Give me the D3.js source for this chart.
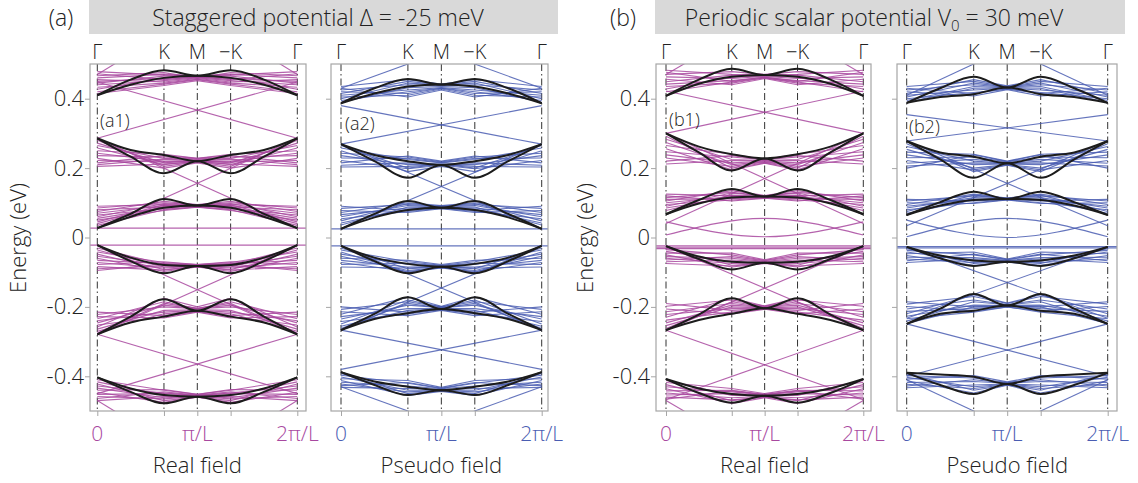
<!DOCTYPE html>
<html>
<head>
<meta charset="utf-8">
<script src="https://cdn.jsdelivr.net/npm/d3@7"></script>
<style>
  body { margin: 0; background: #fff; }
  text { font-family: "Open Sans", "Noto Sans", sans-serif; font-weight: 300; fill: #222; }
</style>
</head>
<body>
<div id="chart"></div>
<script>
// ---------------------------------------------------------------
// data (energies in eV, k in units of pi/L)
// ---------------------------------------------------------------
var symPos = [0, 2/3, 1, 4/3, 2];
var symLabels = ["Γ", "K", "M", "−K", "Γ"];
var kGrid = [0, 1/3, 2/3, 1, 4/3, 5/3, 2];
var eTicks = [0.4, 0.2, 0, -0.2, -0.4];
var kTicks = [0, 1, 2];
var kTickLabels = ["0", "π/L", "2π/L"];

// black bands, sampled on kGrid
var a1Black = [
  [0.41, 0.455, 0.482, 0.466, 0.482, 0.455, 0.41],
  [0.41, 0.44, 0.46, 0.466, 0.46, 0.44, 0.41],
  [0.286, 0.233, 0.185, 0.22, 0.185, 0.233, 0.286],
  [0.286, 0.252, 0.238, 0.22, 0.238, 0.252, 0.286],
  [0.027, 0.068, 0.111, 0.092, 0.111, 0.068, 0.027],
  [0.027, 0.06, 0.086, 0.092, 0.086, 0.06, 0.027],
  [-0.022, -0.068, -0.103, -0.082, -0.103, -0.068, -0.022],
  [-0.022, -0.058, -0.079, -0.082, -0.079, -0.058, -0.022],
  [-0.279, -0.228, -0.178, -0.211, -0.178, -0.228, -0.279],
  [-0.279, -0.245, -0.228, -0.211, -0.228, -0.245, -0.279],
  [-0.403, -0.445, -0.478, -0.459, -0.478, -0.445, -0.403],
  [-0.403, -0.435, -0.454, -0.459, -0.454, -0.435, -0.403]
];
var a2Black = [
  [0.387, 0.43, 0.457, 0.441, 0.457, 0.43, 0.387],
  [0.387, 0.415, 0.435, 0.441, 0.435, 0.415, 0.387],
  [0.269, 0.22, 0.172, 0.209, 0.172, 0.22, 0.269],
  [0.269, 0.238, 0.22, 0.209, 0.22, 0.238, 0.269],
  [0.025, 0.068, 0.105, 0.086, 0.105, 0.068, 0.025],
  [0.025, 0.058, 0.079, 0.086, 0.079, 0.058, 0.025],
  [-0.024, -0.068, -0.103, -0.084, -0.103, -0.068, -0.024],
  [-0.024, -0.058, -0.076, -0.084, -0.076, -0.058, -0.024],
  [-0.267, -0.22, -0.172, -0.206, -0.172, -0.22, -0.267],
  [-0.267, -0.235, -0.218, -0.206, -0.218, -0.235, -0.267],
  [-0.388, -0.425, -0.454, -0.44, -0.454, -0.425, -0.388],
  [-0.388, -0.415, -0.43, -0.44, -0.43, -0.415, -0.388]
];
var b1Black = [
  [0.408, 0.455, 0.486, 0.468, 0.486, 0.455, 0.408],
  [0.408, 0.443, 0.463, 0.468, 0.463, 0.443, 0.408],
  [0.30, 0.245, 0.193, 0.228, 0.193, 0.245, 0.30],
  [0.30, 0.262, 0.24, 0.228, 0.24, 0.262, 0.30],
  [0.067, 0.108, 0.14, 0.118, 0.14, 0.108, 0.067],
  [0.067, 0.098, 0.115, 0.118, 0.115, 0.098, 0.067],
  [-0.025, -0.062, -0.092, -0.073, -0.092, -0.062, -0.025],
  [-0.025, -0.055, -0.07, -0.073, -0.07, -0.055, -0.025],
  [-0.267, -0.222, -0.175, -0.204, -0.175, -0.222, -0.267],
  [-0.267, -0.238, -0.22, -0.204, -0.22, -0.238, -0.267],
  [-0.408, -0.448, -0.476, -0.456, -0.476, -0.448, -0.408],
  [-0.408, -0.435, -0.451, -0.456, -0.451, -0.435, -0.408]
];
var b2Black = [
  [0.388, 0.43, 0.463, 0.432, 0.463, 0.43, 0.388],
  [0.388, 0.405, 0.413, 0.432, 0.413, 0.405, 0.388],
  [0.278, 0.225, 0.172, 0.214, 0.172, 0.225, 0.278],
  [0.278, 0.245, 0.233, 0.214, 0.233, 0.245, 0.278],
  [0.065, 0.102, 0.132, 0.111, 0.132, 0.102, 0.065],
  [0.065, 0.092, 0.108, 0.111, 0.108, 0.092, 0.065],
  [-0.027, -0.06, -0.082, -0.07, -0.082, -0.06, -0.027],
  [-0.027, -0.052, -0.066, -0.07, -0.066, -0.052, -0.027],
  [-0.249, -0.205, -0.163, -0.196, -0.163, -0.205, -0.249],
  [-0.249, -0.22, -0.211, -0.196, -0.211, -0.22, -0.249],
  [-0.39, -0.425, -0.451, -0.422, -0.451, -0.425, -0.39],
  [-0.39, -0.395, -0.401, -0.422, -0.401, -0.395, -0.39]
];

// coloured bands: [E at Γ, E at K, E at M]
var a1Fan = [
  [0.478,0.468,0.466],[0.472,0.455,0.463],[0.466,0.475,0.46],[0.46,0.47,0.466],[0.455,0.448,0.458],
  [0.45,0.458,0.462],[0.445,0.465,0.466],[0.44,0.452,0.46],[0.433,0.445,0.456],[0.427,0.46,0.464],
  [0.42,0.442,0.455],[0.415,0.438,0.452],
  [0.28,0.205,0.218],[0.272,0.215,0.222],[0.265,0.228,0.225],[0.258,0.21,0.22],[0.25,0.24,0.228],
  [0.243,0.22,0.222],[0.236,0.232,0.226],[0.228,0.2,0.215],[0.222,0.218,0.22],[0.215,0.236,0.228],
  [0.21,0.226,0.222],[0.205,0.212,0.218],
  [0.09,0.095,0.092],[0.085,0.1,0.094],[0.08,0.088,0.09],[0.075,0.104,0.095],[0.07,0.092,0.092],
  [0.065,0.082,0.088],[0.06,0.098,0.093],[0.055,0.086,0.09],[0.05,0.078,0.087],[0.045,0.094,0.092],
  [0.04,0.09,0.091],[0.035,0.08,0.088],
  [-0.03,-0.078,-0.08],[-0.036,-0.085,-0.082],[-0.042,-0.072,-0.078],[-0.048,-0.092,-0.084],[-0.054,-0.08,-0.081],
  [-0.06,-0.098,-0.085],[-0.066,-0.075,-0.08],[-0.072,-0.088,-0.083],[-0.078,-0.07,-0.078],[-0.084,-0.094,-0.084],
  [-0.09,-0.082,-0.082],[-0.095,-0.076,-0.08],
  [-0.215,-0.225,-0.212],[-0.222,-0.2,-0.205],[-0.228,-0.232,-0.215],[-0.234,-0.185,-0.205],[-0.24,-0.215,-0.21],
  [-0.246,-0.195,-0.205],[-0.252,-0.228,-0.214],[-0.258,-0.175,-0.2],[-0.264,-0.21,-0.208],[-0.27,-0.22,-0.212],
  [-0.275,-0.19,-0.204],
  [-0.41,-0.44,-0.452],[-0.416,-0.455,-0.456],[-0.422,-0.47,-0.46],[-0.428,-0.448,-0.455],[-0.434,-0.462,-0.458],
  [-0.44,-0.438,-0.452],[-0.446,-0.475,-0.46],[-0.452,-0.45,-0.455],[-0.458,-0.465,-0.458],[-0.464,-0.445,-0.454],
  [-0.47,-0.458,-0.457]
];
var a2Fan = [
  [0.435,0.455,0.442],[0.43,0.405,0.425],[0.425,0.44,0.438],[0.42,0.415,0.43],[0.415,0.45,0.44],
  [0.41,0.425,0.432],[0.405,0.41,0.428],[0.4,0.445,0.44],[0.395,0.42,0.43],[0.39,0.432,0.435],
  [0.265,0.2,0.212],[0.258,0.225,0.215],[0.25,0.19,0.205],[0.243,0.232,0.218],[0.236,0.21,0.21],
  [0.229,0.228,0.216],[0.222,0.198,0.208],[0.215,0.235,0.22],[0.208,0.215,0.212],[0.203,0.205,0.21],
  [0.09,0.078,0.085],[0.084,0.095,0.09],[0.078,0.072,0.083],[0.072,0.1,0.092],[0.066,0.085,0.087],
  [0.06,0.092,0.089],[0.054,0.075,0.084],[0.048,0.098,0.09],[0.042,0.082,0.086],[0.036,0.088,0.088],
  [-0.03,-0.09,-0.085],[-0.036,-0.07,-0.08],[-0.042,-0.1,-0.088],[-0.048,-0.078,-0.082],[-0.054,-0.095,-0.086],
  [-0.06,-0.066,-0.078],[-0.066,-0.085,-0.084],[-0.072,-0.098,-0.087],[-0.078,-0.074,-0.081],[-0.085,-0.088,-0.084],
  [-0.2,-0.215,-0.208],[-0.207,-0.185,-0.2],[-0.214,-0.225,-0.21],[-0.221,-0.172,-0.198],[-0.228,-0.205,-0.205],
  [-0.235,-0.195,-0.202],[-0.242,-0.22,-0.208],[-0.249,-0.18,-0.2],[-0.256,-0.21,-0.206],[-0.262,-0.19,-0.203],
  [-0.392,-0.45,-0.442],[-0.397,-0.42,-0.435],[-0.402,-0.44,-0.44],[-0.407,-0.412,-0.432],[-0.412,-0.455,-0.444],
  [-0.417,-0.428,-0.436],[-0.422,-0.445,-0.441],[-0.427,-0.418,-0.434],[-0.432,-0.435,-0.438]
];
var b1Fan = [
  [0.482,0.47,0.468],[0.476,0.45,0.462],[0.47,0.478,0.47],[0.463,0.458,0.464],[0.456,0.44,0.458],
  [0.449,0.468,0.467],[0.442,0.452,0.462],[0.435,0.445,0.46],[0.428,0.462,0.466],[0.42,0.448,0.46],
  [0.292,0.2,0.215],[0.283,0.225,0.222],[0.274,0.21,0.218],[0.265,0.24,0.226],[0.256,0.195,0.214],
  [0.247,0.232,0.224],[0.238,0.215,0.22],[0.229,0.205,0.217],[0.22,0.236,0.225],[0.212,0.222,0.221],
  [0.125,0.12,0.118],[0.12,0.105,0.113],[0.115,0.13,0.12],[0.11,0.112,0.115],[0.105,0.135,0.121],
  [0.1,0.118,0.117],[0.095,0.108,0.114],[0.09,0.128,0.12],[0.085,0.115,0.116],[0.078,0.122,0.118],
  [-0.03,-0.08,-0.074],[-0.035,-0.05,-0.066],[-0.04,-0.07,-0.072],[-0.045,-0.045,-0.064],[-0.05,-0.085,-0.075],
  [-0.055,-0.06,-0.069],[-0.06,-0.075,-0.073],[-0.065,-0.055,-0.067],[-0.07,-0.065,-0.07],[-0.075,-0.082,-0.074],
  [-0.19,-0.21,-0.205],[-0.198,-0.18,-0.198],[-0.206,-0.22,-0.207],[-0.214,-0.19,-0.2],[-0.222,-0.205,-0.204],
  [-0.23,-0.175,-0.197],[-0.238,-0.215,-0.206],[-0.246,-0.195,-0.201],[-0.254,-0.2,-0.203],[-0.262,-0.185,-0.199],
  [-0.412,-0.455,-0.456],[-0.418,-0.435,-0.45],[-0.424,-0.47,-0.46],[-0.43,-0.445,-0.453],[-0.436,-0.478,-0.462],
  [-0.442,-0.44,-0.452],[-0.448,-0.462,-0.458],[-0.454,-0.45,-0.455],[-0.46,-0.468,-0.46],[-0.466,-0.442,-0.453]
];
var b2Fan = [
  [0.435,0.45,0.435],[0.43,0.415,0.428],[0.425,0.44,0.433],[0.42,0.408,0.426],[0.415,0.455,0.437],
  [0.41,0.425,0.43],[0.405,0.445,0.434],[0.4,0.418,0.428],[0.395,0.435,0.432],[0.39,0.43,0.431],
  [0.27,0.19,0.208],[0.262,0.22,0.214],[0.254,0.2,0.21],[0.246,0.24,0.22],[0.238,0.21,0.212],
  [0.23,0.232,0.218],[0.222,0.195,0.209],[0.214,0.225,0.216],[0.206,0.215,0.213],[0.2,0.238,0.219],
  [0.11,0.105,0.11],[0.105,0.12,0.113],[0.1,0.098,0.108],[0.095,0.125,0.114],[0.09,0.11,0.11],
  [0.085,0.115,0.112],[0.08,0.1,0.109],[0.075,0.122,0.113],[0.07,0.108,0.11],
  [-0.032,-0.075,-0.07],[-0.037,-0.05,-0.064],[-0.042,-0.068,-0.069],[-0.047,-0.042,-0.062],[-0.052,-0.08,-0.071],
  [-0.057,-0.058,-0.066],[-0.062,-0.072,-0.07],[-0.067,-0.048,-0.063],[-0.072,-0.062,-0.067],
  [-0.185,-0.2,-0.198],[-0.192,-0.17,-0.19],[-0.199,-0.212,-0.2],[-0.206,-0.18,-0.193],[-0.213,-0.205,-0.198],
  [-0.22,-0.165,-0.189],[-0.227,-0.195,-0.196],[-0.234,-0.215,-0.2],[-0.241,-0.185,-0.194],[-0.248,-0.2,-0.197],
  [-0.393,-0.44,-0.425],[-0.398,-0.405,-0.418],[-0.403,-0.43,-0.423],[-0.408,-0.398,-0.416],[-0.413,-0.448,-0.426],
  [-0.418,-0.415,-0.42],[-0.423,-0.435,-0.424],[-0.428,-0.41,-0.419],[-0.433,-0.425,-0.422]
];

// straight folded bands crossing at M: [E at left Γ, E at right Γ]
var a1Cross = [[0.47, 0.82], [0.286, 0.448], [0.286, 0.027], [-0.022, -0.279], [-0.279, -0.45], [-0.47, -0.82]];
var a2Cross = [[0.43, 0.64], [0.269, 0.38], [0.269, 0.025], [-0.024, -0.267], [-0.267, -0.38], [-0.43, -0.64]];
var b1Cross = [[0.47, 0.8], [0.30, 0.422], [0.30, 0.04], [-0.025, -0.267], [-0.267, -0.467], [-0.47, -0.8]];
var b2Cross = [[0.41, 0.68], [0.278, 0.354], [0.278, 0.034], [-0.027, -0.233], [-0.249, -0.40], [-0.41, -0.68]];

// flat bands
var a1Flat = [0.027, -0.022];
var a2Flat = [0.025, -0.024];
var b1Flat = [-0.024, -0.028, -0.032];
var b2Flat = [-0.026, -0.03];

// arcs near zero energy: [E at Γ, E at M]
var b1Arc = [[0.007, 0.055], [0.045, 0.002]];
var b2Arc = [[0.002, 0.055], [0.05, 0.0]];

// ---------------------------------------------------------------
// layout
// ---------------------------------------------------------------
var width = 1138, height = 483;
var magenta = "#a8489f", blue = "#4a5db2";

var panels = [
  {id: "a1", x0: 90,  x1: 306,  g0: 97.3,  g1: 297.3,  color: magenta, label: "(a1)", lx: 100, ly: 127, yLabels: true,
   black: a1Black, fan: a1Fan, cross: a1Cross, flat: a1Flat, arc: [], field: "Real field"},
  {id: "a2", x0: 331, x1: 548,  g0: 341,   g1: 541.7,  color: blue,    label: "(a2)", lx: 345, ly: 130, yLabels: false,
   black: a2Black, fan: a2Fan, cross: a2Cross, flat: a2Flat, arc: [], field: "Pseudo field"},
  {id: "b1", x0: 656, x1: 871,  g0: 666,   g1: 863.3,  color: magenta, label: "(b1)", lx: 669, ly: 126, yLabels: true,
   black: b1Black, fan: b1Fan, cross: b1Cross, flat: b1Flat, arc: b1Arc, field: "Real field"},
  {id: "b2", x0: 897, x1: 1117, g0: 906.7, g1: 1107.7, color: blue,    label: "(b2)", lx: 909, ly: 133, yLabels: false,
   black: b2Black, fan: b2Fan, cross: b2Cross, flat: b2Flat, arc: b2Arc, field: "Pseudo field"}
];

var svg = d3.select("#chart").append("svg")
    .attr("width", width)
    .attr("height", height);

var y = d3.scaleLinear().domain([-0.5, 0.5]).range([411, 64]);

// header boxes
var headers = [
  {x0: 89, x1: 558, tag: "(a)", tagX: 61},
  {x0: 655, x1: 1125, tag: "(b)", tagX: 623}
];
headers.forEach(function(h) {
  svg.append("rect")
      .attr("x", h.x0).attr("y", 0)
      .attr("width", h.x1 - h.x0).attr("height", 34)
      .attr("fill", "#d9d9d9");
  svg.append("text")
      .attr("x", h.tagX).attr("y", 26)
      .attr("text-anchor", "middle")
      .style("font-size", "23px")
      .text(h.tag);
});
svg.append("text")
    .attr("x", 318).attr("y", 26)
    .attr("text-anchor", "middle")
    .style("font-size", "23px")
    .text("Staggered potential Δ = -25 meV");
var tb = svg.append("text")
    .attr("x", 874).attr("y", 26)
    .attr("text-anchor", "middle")
    .style("font-size", "23px");
tb.append("tspan").text("Periodic scalar potential V");
tb.append("tspan").attr("dy", 5).style("font-size", "15px").text("0");
tb.append("tspan").attr("dy", -5).text(" = 30 meV");

// y axis titles
[26, 593].forEach(function(xx) {
  svg.append("text")
      .attr("transform", "translate(" + xx + "," + 238 + ") rotate(-90)")
      .attr("text-anchor", "middle")
      .style("font-size", "22px")
      .text("Energy (eV)");
});

var bandLine = d3.line().curve(d3.curveMonotoneX);
var straight = d3.line();

panels.forEach(function(p) {
  var x = d3.scaleLinear().domain([0, 2]).range([p.g0, p.g1]);
  var g = svg.append("g").attr("class", "panel").attr("id", "panel-" + p.id);

  g.append("clipPath")
      .attr("id", "clip-" + p.id)
      .append("rect")
      .attr("x", p.x0).attr("y", y(0.5))
      .attr("width", p.x1 - p.x0).attr("height", y(-0.5) - y(0.5));

  var plot = g.append("g").attr("clip-path", "url(#clip-" + p.id + ")");

  // high-symmetry lines
  plot.selectAll("line.sym")
      .data(symPos)
      .enter().append("line")
      .attr("class", "sym")
      .attr("x1", function(d) { return x(d); })
      .attr("x2", function(d) { return x(d); })
      .attr("y1", y(0.5)).attr("y2", y(-0.5))
      .attr("stroke", "#333")
      .attr("stroke-width", 1)
      .attr("stroke-dasharray", "7,3,1.5,3");

  var col = plot.append("g")
      .attr("fill", "none")
      .attr("stroke", p.color)
      .attr("stroke-width", 1.1)
      .attr("stroke-opacity", 0.85);

  col.selectAll("path.fan")
      .data(p.fan)
      .enter().append("path")
      .attr("class", "fan")
      .attr("d", function(d) {
        return straight([[x(0), y(d[0])], [x(2/3), y(d[1])], [x(1), y(d[2])], [x(4/3), y(d[1])], [x(2), y(d[0])]]);
      });

  var crossPairs = [];
  p.cross.forEach(function(c) { crossPairs.push([c[0], c[1]]); crossPairs.push([c[1], c[0]]); });
  col.selectAll("path.cross")
      .data(crossPairs)
      .enter().append("path")
      .attr("class", "cross")
      .attr("d", function(d) { return straight([[x(0), y(d[0])], [x(2), y(d[1])]]); });

  col.selectAll("path.flat")
      .data(p.flat)
      .enter().append("path")
      .attr("class", "flat")
      .attr("d", function(d) { return straight([[x(-0.2), y(d)], [x(2.2), y(d)]]); });

  col.selectAll("path.arc")
      .data(p.arc)
      .enter().append("path")
      .attr("class", "arc")
      .attr("d", function(d) {
        return d3.line().curve(d3.curveNatural)([[x(0), y(d[0])], [x(1), y(d[1])], [x(2), y(d[0])]]);
      });

  plot.append("g")
      .attr("fill", "none")
      .attr("stroke", "#1c1c1c")
      .attr("stroke-width", 2)
      .selectAll("path")
      .data(p.black)
      .enter().append("path")
      .attr("d", function(d) {
        return bandLine(d.map(function(e, i) { return [x(kGrid[i]), y(e)]; }));
      });

  // frame
  g.append("rect")
      .attr("x", p.x0).attr("y", y(0.5))
      .attr("width", p.x1 - p.x0).attr("height", y(-0.5) - y(0.5))
      .attr("fill", "none")
      .attr("stroke", "#a6a6a6")
      .attr("stroke-width", 1.2);

  // y axis
  var yAxis = d3.axisLeft(y)
      .tickValues(eTicks)
      .tickSize(5)
      .tickSizeOuter(0)
      .tickFormat(function(d) { return p.yLabels ? (d === 0 ? "0" : String(d)) : ""; });
  var ya = g.append("g")
      .attr("transform", "translate(" + p.x0 + ",0)")
      .call(yAxis);
  ya.select(".domain").remove();
  ya.selectAll(".tick line").attr("stroke", "#a6a6a6");
  ya.selectAll(".tick text")
      .attr("x", -6)
      .style("font-size", "22px")
      .style("font-family", "'Open Sans', sans-serif")
      .style("font-weight", 300)
      .attr("fill", "#222");

  // x axis
  var xAxis = d3.axisBottom(x)
      .tickValues([0, 2/3, 1, 4/3, 2])
      .tickSize(5)
      .tickSizeOuter(0)
      .tickFormat("");
  var xa = g.append("g")
      .attr("transform", "translate(0," + y(-0.5) + ")")
      .call(xAxis);
  xa.select(".domain").remove();
  xa.selectAll(".tick line").attr("stroke", "#a6a6a6");

  g.selectAll("text.kt")
      .data(kTicks)
      .enter().append("text")
      .attr("class", "kt")
      .attr("x", function(d) { return x(d); })
      .attr("y", 441)
      .attr("text-anchor", "middle")
      .style("font-size", "21px")
      .style("fill", p.color)
      .text(function(d, i) { return kTickLabels[i]; });

  g.append("text")
      .attr("x", x(1))
      .attr("y", 473)
      .attr("text-anchor", "middle")
      .style("font-size", "22px")
      .text(p.field);

  // high-symmetry labels
  g.selectAll("text.sym")
      .data(symPos)
      .enter().append("text")
      .attr("class", "sym")
      .attr("x", function(d) { return x(d); })
      .attr("y", 59)
      .attr("text-anchor", "middle")
      .style("font-size", "20px")
      .text(function(d, i) { return symLabels[i]; });

  g.append("text")
      .attr("x", p.lx).attr("y", p.ly)
      .style("font-size", "18px")
      .text(p.label);
});
</script>
</body>
</html>
